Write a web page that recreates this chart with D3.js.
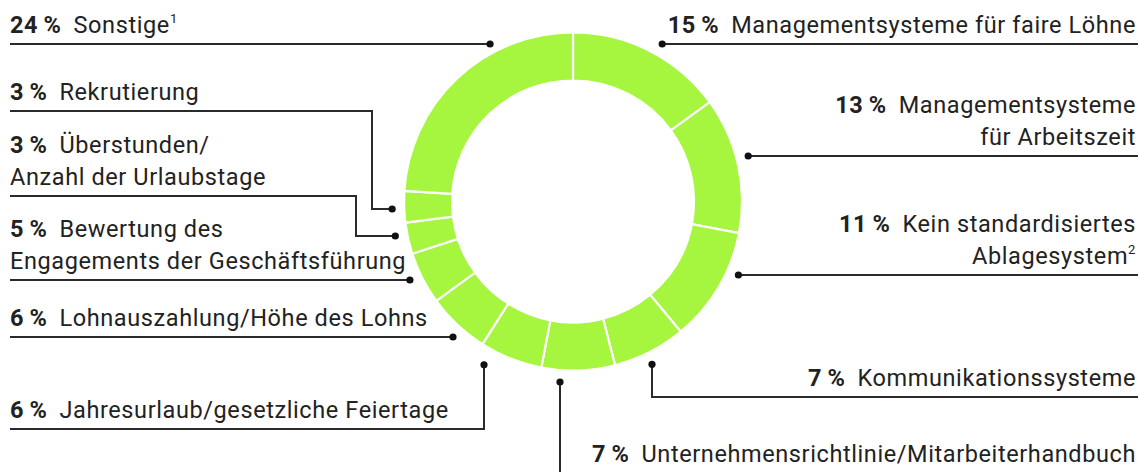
<!DOCTYPE html>
<html>
<head>
<meta charset="utf-8">
<script src="https://cdn.jsdelivr.net/npm/d3@7"></script>
<style>
  html, body { margin: 0; padding: 0; background: #fff; }
  svg { display: block; }
  text { font-family: Roboto, "Noto Sans", sans-serif; fill: #222; }
</style>
</head>
<body>
<svg id="chart" width="1138" height="472"></svg>
<script>
// Share of findings per topic, clockwise from 12 o'clock
const categories = [
  "Managementsysteme für faire Löhne",
  "Managementsysteme für Arbeitszeit",
  "Kein standardisiertes Ablagesystem",
  "Kommunikationssysteme",
  "Unternehmensrichtlinie/Mitarbeiterhandbuch",
  "Jahresurlaub/gesetzliche Feiertage",
  "Lohnauszahlung/Höhe des Lohns",
  "Bewertung des Engagements der Geschäftsführung",
  "Überstunden/Anzahl der Urlaubstage",
  "Rekrutierung",
  "Sonstige"
];
const values = [15, 13, 11, 7, 7, 6, 6, 5, 3, 3, 24];

// Label text as it is broken onto lines; first line carries the percentage
const labelLines = [
  ["Managementsysteme für faire Löhne"],
  ["Managementsysteme", "für Arbeitszeit"],
  ["Kein standardisiertes", "Ablagesystem"],
  ["Kommunikationssysteme"],
  ["Unternehmensrichtlinie/Mitarbeiterhandbuch"],
  ["Jahresurlaub/gesetzliche Feiertage"],
  ["Lohnauszahlung/Höhe des Lohns"],
  ["Bewertung des", "Engagements der Geschäftsführung"],
  ["Überstunden/", "Anzahl der Urlaubstage"],
  ["Rekrutierung"],
  ["Sonstige"]
];
const footnotes = ["", "", "2", "", "", "", "", "", "", "", "1"];

// Leader layout for each label
const leaders = [
  { side: "right", type: "h", lineY: 44 },
  { side: "right", type: "h", lineY: 156 },
  { side: "right", type: "h", lineY: 275 },
  { side: "right", type: "v", lineY: 397, dotX: 652 },
  { side: "right", type: "down", dotX: 560, textY: 462 },
  { side: "left", type: "v", lineY: 429, dotX: 484, gap: 17 },
  { side: "left", type: "h", lineY: 337 },
  { side: "left", type: "h", lineY: 280 },
  { side: "left", type: "elbow", lineY: 196, elbowX: 356, dotY: 236 },
  { side: "left", type: "elbow", lineY: 111, elbowX: 372, dotY: 209 },
  { side: "left", type: "h", lineY: 44, gap: 9 }
];

const W = 1138, H = 472;
const cx = 573, cy = 201.5;
const outerR = 169, innerR = 121;
const leftX = 10, rightX = 1136;
const lineH = 31.5;
const fontSize = 23.5, tracking = 0.6;
const green = "#a6f53f", ink = "#2a2a2a";

const svg = d3.select("#chart");

const pie = d3.pie().sort(null).value(d => d);
const arc = d3.arc().innerRadius(innerR).outerRadius(outerR);
const arcs = pie(values);

const ring = svg.append("g").attr("transform", `translate(${cx},${cy})`);
ring.selectAll("path")
  .data(arcs)
  .join("path")
  .attr("d", arc)
  .attr("fill", green)
  .attr("stroke", "#fff")
  .attr("stroke-width", 2.2)
  .attr("stroke-linejoin", "miter");

// Leader lines with dots placed on a circle just outside the ring
const leaderG = svg.append("g");
leaders.forEach((L, i) => {
  const R = outerR + (L.gap ?? 12);
  let dot, pts;
  const lineEnd = L.side === "left" ? 10 : W;
  if (L.type === "h") {
    const dy = L.lineY - cy;
    const dx = Math.sqrt(R * R - dy * dy);
    dot = [L.side === "left" ? cx - dx : cx + dx, L.lineY];
    pts = [dot, [lineEnd, L.lineY]];
  } else if (L.type === "v") {
    const dx = L.dotX - cx;
    dot = [L.dotX, cy + Math.sqrt(R * R - dx * dx)];
    pts = [dot, [L.dotX, L.lineY], [lineEnd, L.lineY]];
  } else if (L.type === "down") {
    const dx = L.dotX - cx;
    dot = [L.dotX, cy + Math.sqrt(R * R - dx * dx)];
    pts = [dot, [L.dotX, H]];
  } else {
    const dy = L.dotY - cy;
    const dx = Math.sqrt(R * R - dy * dy);
    dot = [cx - dx, L.dotY];
    pts = [dot, [L.elbowX, L.dotY], [L.elbowX, L.lineY], [lineEnd, L.lineY]];
  }
  leaderG.append("path")
    .attr("d", d3.line()(pts))
    .attr("fill", "none")
    .attr("stroke", ink)
    .attr("stroke-width", 2);
  leaderG.append("circle")
    .attr("cx", dot[0]).attr("cy", dot[1])
    .attr("r", 3.6)
    .attr("fill", "#111");
});

// Labels
const labelG = svg.append("g");
const fmtPct = v => `${v}\u2009%`;
arcs.forEach((a, i) => {
  const L = leaders[i];
  const lines = labelLines[i];
  const lastBaseline = L.textY ?? (L.lineY - 11.5);
  const firstBaseline = lastBaseline - (lines.length - 1) * lineH;
  const anchor = L.side === "left" ? "start" : "end";
  const x = L.side === "left" ? leftX : rightX;
  lines.forEach((ln, j) => {
    const t = labelG.append("text")
      .attr("x", x)
      .attr("y", firstBaseline + j * lineH)
      .attr("text-anchor", anchor)
      .attr("font-size", fontSize)
      .attr("letter-spacing", tracking);
    if (j === 0) {
      t.append("tspan").attr("font-weight", 700).text(fmtPct(values[i]));
      t.append("tspan").attr("dx", 12).text(ln);
    } else {
      t.append("tspan").text(ln);
    }
    if (j === lines.length - 1 && footnotes[i]) {
      t.append("tspan")
        .attr("font-size", 13)
        .attr("dy", -10)
        .text(footnotes[i]);
    }
  });
});
</script>
</body>
</html>
